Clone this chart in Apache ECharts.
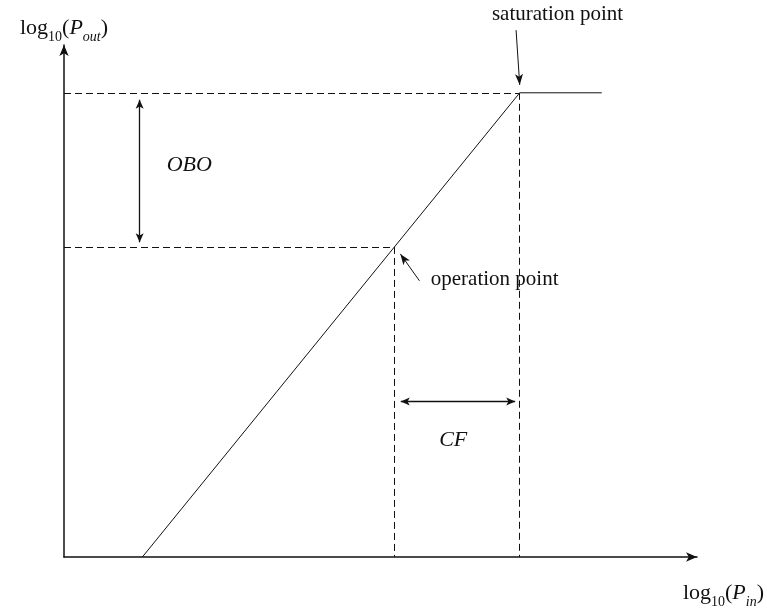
<!DOCTYPE html>
<html>
<head>
<meta charset="utf-8">
<script src="https://cdn.jsdelivr.net/npm/echarts@6/dist/echarts.min.js"></script>
<style>
  html, body { margin: 0; padding: 0; background: #fff; }
  #chart { width: 767px; height: 609px; }
</style>
</head>
<body>
<div id="chart"></div>
<script>
// Amplifier transfer characteristic: log10(Pout) versus log10(Pin)
const curveIn = [1.72, 10, 11.8];         // log10(Pin)
const curveOut = [0, 10, 10];             // log10(Pout)
const saturationPoint = [10, 10];
const operationPoint = [7.25, 6.68];
const oboArrow = [[1.66, 9.85], [1.66, 6.78]];
const cfArrow = [[7.39, 3.35], [9.9, 3.35]];
const labelTexts = ['saturation point', 'operation point', 'OBO', 'CF'];
const labelCoords = [[10.83, 11.68], [9.45, 5.97], [2.75, 8.45], [8.54, 2.51]];
const pointerArrows = [
  [[9.92, 11.35], [10.0, 10.17]],
  [[7.8, 5.95], [7.38, 6.53]]
];

const serif = "'Liberation Serif', 'Times New Roman', serif";
const ink = '#111';

const curve = curveIn.map((x, i) => [x, curveOut[i]]);

const richName = {
  n: { fontFamily: serif, fontSize: 22, color: ink, lineHeight: 22 },
  s: { fontFamily: serif, fontSize: 14, color: ink, lineHeight: 32, verticalAlign: 'bottom' },
  i: { fontFamily: serif, fontSize: 22, color: ink, fontStyle: 'italic', lineHeight: 22 },
  si: { fontFamily: serif, fontSize: 14, color: ink, fontStyle: 'italic', lineHeight: 32, verticalAlign: 'bottom' }
};

const axisCommon = {
  type: 'value',
  axisLine: { show: true, symbol: ['none', 'arrow'], symbolSize: [7, 11], lineStyle: { color: ink, width: 1.5 } },
  axisTick: { show: false },
  axisLabel: { show: false },
  splitLine: { show: false }
};

const dashed = { color: ink, width: 1, type: [7, 4] };

const option = {
  animation: false,
  backgroundColor: '#fff',
  grid: { left: 64, top: 45, width: 636, height: 514 },
  xAxis: Object.assign({}, axisCommon, {
    min: 0, max: 13.89,
    name: '{n|log}{s|10}{n|(}{i|P}{si|in}{n|)}',
    nameLocation: 'end',
    nameGap: 67,
    nameTextStyle: { align: 'right', verticalAlign: 'top', padding: [20, 0, 0, 0], rich: richName }
  }),
  yAxis: Object.assign({}, axisCommon, {
    min: 0, max: 11.03,
    name: '{n|log}{s|10}{n|(}{i|P}{si|out}{n|)}',
    nameLocation: 'end',
    nameGap: 1,
    nameTextStyle: { rich: richName }
  }),
  series: [
    {
      id: 'transfer',
      type: 'line',
      data: curve,
      symbol: 'none',
      lineStyle: { color: ink, width: 1 },
      z: 3
    },
    {
      id: 'guides',
      type: 'line',
      data: [],
      markLine: {
        silent: true,
        symbol: ['none', 'none'],
        label: { show: false },
        lineStyle: dashed,
        data: [
          [{ coord: [0, saturationPoint[1]] }, { coord: saturationPoint }],
          [{ coord: saturationPoint }, { coord: [saturationPoint[0], 0] }],
          [{ coord: [0, operationPoint[1]] }, { coord: operationPoint }],
          [{ coord: operationPoint }, { coord: [operationPoint[0], 0] }]
        ]
      }
    },
    {
      id: 'spans',
      type: 'line',
      data: [],
      markLine: {
        silent: true,
        symbol: ['arrow', 'arrow'],
        symbolSize: [6, 9],
        label: { show: false },
        lineStyle: { color: ink, width: 1.3, type: 'solid' },
        data: [
          [{ coord: oboArrow[0] }, { coord: oboArrow[1] }],
          [{ coord: cfArrow[0] }, { coord: cfArrow[1] }]
        ]
      }
    }
  ]
};

const chart = echarts.init(document.getElementById('chart'), null, { renderer: 'canvas' });
chart.setOption(option);

// Annotations may sit above the plotted range, so place them by converting
// their data coordinates through the grid's scales (which extrapolate).
const toPx = c => chart.convertToPixel({ gridIndex: 0 }, c);

option.series.push(
  {
    id: 'pointers',
    type: 'line',
    data: [],
    markLine: {
      silent: true,
      symbol: ['none', 'arrow'],
      symbolSize: [6, 11],
      label: { show: false },
      lineStyle: { color: ink, width: 1, type: 'solid' },
      data: pointerArrows.map(a => {
        const p0 = toPx(a[0]), p1 = toPx(a[1]);
        return [{ x: p0[0], y: p0[1] }, { x: p1[0], y: p1[1] }];
      })
    }
  },
  {
    id: 'labels',
    type: 'line',
    data: [],
    markPoint: {
      silent: true,
      symbol: 'rect',
      symbolSize: 1,
      itemStyle: { color: 'rgba(0,0,0,0)' },
      data: labelTexts.map((t, i) => {
        const p = toPx(labelCoords[i]);
        return {
          x: p[0],
          y: p[1],
          label: {
            show: true,
            position: 'inside',
            formatter: t,
            fontFamily: serif,
            fontSize: i < 2 ? 21 : 22,
            fontStyle: i < 2 ? 'normal' : 'italic',
            color: ink
          }
        };
      })
    }
  }
);

chart.setOption(option);
</script>
</body>
</html>
